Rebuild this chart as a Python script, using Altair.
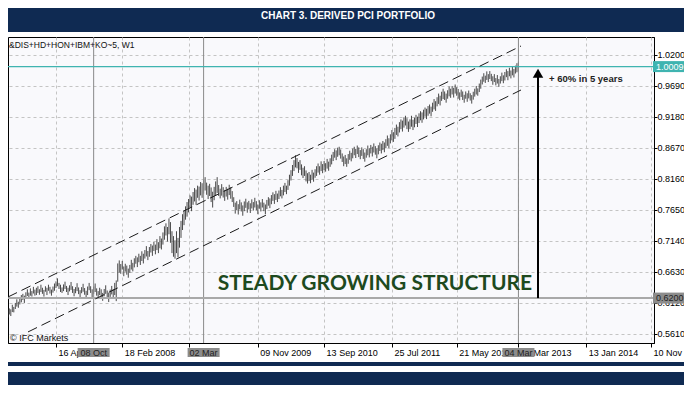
import json
import altair as alt
import pandas as pd

# ---------------- data ----------------
week_start = "2006-09-04"          # first weekly bar (W1 bars, one per week)

bar_mid = [
    0.594, 0.598, 0.596, 0.603, 0.601, 0.607, 0.612, 0.609, 0.615, 0.619,
    0.622, 0.618, 0.625, 0.629, 0.624, 0.630, 0.627, 0.633, 0.629, 0.631,
    0.634, 0.630, 0.636, 0.632, 0.628, 0.635, 0.631, 0.637, 0.633, 0.629,
    0.634, 0.638, 0.642, 0.646, 0.640, 0.636, 0.633, 0.637, 0.641, 0.635,
    0.631, 0.636, 0.640, 0.634, 0.629, 0.633, 0.638, 0.632, 0.627, 0.633,
    0.637, 0.631, 0.626, 0.632, 0.639, 0.634, 0.628, 0.633, 0.637, 0.630,
    0.625, 0.631, 0.627, 0.622, 0.629, 0.634, 0.626, 0.621, 0.628, 0.633,
    0.627, 0.635, 0.632, 0.662, 0.672, 0.668, 0.674, 0.664, 0.670, 0.666,
    0.661, 0.668, 0.675, 0.671, 0.678, 0.683, 0.679, 0.686, 0.682, 0.689,
    0.685, 0.692, 0.697, 0.690, 0.696, 0.702, 0.698, 0.705, 0.700, 0.708,
    0.703, 0.712, 0.709, 0.718, 0.727, 0.733, 0.725, 0.738, 0.728, 0.712,
    0.705, 0.700, 0.712, 0.703, 0.720, 0.733, 0.745, 0.752, 0.760, 0.766,
    0.772, 0.779, 0.775, 0.784, 0.790, 0.786, 0.795, 0.792, 0.800, 0.797,
    0.803, 0.808, 0.800, 0.794, 0.798, 0.790, 0.782, 0.792, 0.800, 0.806,
    0.797, 0.792, 0.798, 0.794, 0.789, 0.795, 0.791, 0.798, 0.793, 0.787,
    0.778, 0.768, 0.772, 0.766, 0.774, 0.770, 0.764, 0.771, 0.776, 0.769,
    0.773, 0.768, 0.775, 0.771, 0.777, 0.772, 0.766, 0.774, 0.770, 0.776,
    0.770, 0.766, 0.774, 0.779, 0.776, 0.782, 0.787, 0.783, 0.789, 0.785,
    0.790, 0.795, 0.791, 0.797, 0.802, 0.798, 0.806, 0.814, 0.822, 0.830,
    0.838, 0.845, 0.842, 0.835, 0.839, 0.831, 0.826, 0.829, 0.821, 0.817,
    0.820, 0.816, 0.823, 0.819, 0.825, 0.829, 0.834, 0.830, 0.837, 0.833,
    0.838, 0.835, 0.841, 0.837, 0.843, 0.848, 0.853, 0.858, 0.855, 0.860,
    0.862, 0.857, 0.851, 0.845, 0.848, 0.843, 0.849, 0.855, 0.852, 0.858,
    0.862, 0.858, 0.864, 0.860, 0.856, 0.861, 0.857, 0.852, 0.858, 0.863,
    0.859, 0.865, 0.861, 0.867, 0.863, 0.858, 0.864, 0.869, 0.866, 0.871,
    0.868, 0.874, 0.879, 0.875, 0.882, 0.888, 0.885, 0.891, 0.897, 0.894,
    0.901, 0.906, 0.903, 0.909, 0.912, 0.907, 0.902, 0.906, 0.911, 0.905,
    0.909, 0.914, 0.910, 0.916, 0.920, 0.917, 0.922, 0.926, 0.923, 0.928,
    0.931, 0.927, 0.934, 0.939, 0.936, 0.943, 0.948, 0.945, 0.952, 0.956,
    0.953, 0.949, 0.955, 0.960, 0.957, 0.962, 0.958, 0.964, 0.960, 0.956,
    0.952, 0.957, 0.953, 0.948, 0.954, 0.950, 0.955, 0.951, 0.947, 0.953,
    0.958, 0.962, 0.959, 0.966, 0.972, 0.978, 0.983, 0.980, 0.986, 0.982,
    0.987, 0.983, 0.978, 0.982, 0.976, 0.980, 0.974, 0.979, 0.984, 0.980,
    0.985, 0.990, 0.986, 0.992, 0.988, 0.994, 0.990, 0.996, 0.999, 1.001,
]

bar_range = [
    0.012, 0.010, 0.011, 0.012, 0.009, 0.010, 0.012, 0.010, 0.011, 0.012,
    0.010, 0.012, 0.009, 0.011, 0.010, 0.012, 0.009, 0.011, 0.010, 0.012,
    0.011, 0.009, 0.012, 0.010, 0.011, 0.009, 0.012, 0.010, 0.011, 0.010,
    0.010, 0.012, 0.011, 0.013, 0.010, 0.012, 0.009, 0.011, 0.012, 0.010,
    0.012, 0.010, 0.013, 0.011, 0.012, 0.010, 0.013, 0.011, 0.012, 0.010,
    0.013, 0.011, 0.012, 0.014, 0.012, 0.011, 0.013, 0.012, 0.014, 0.012,
    0.013, 0.012, 0.015, 0.013, 0.012, 0.014, 0.013, 0.015, 0.012, 0.014,
    0.016, 0.020, 0.034, 0.030, 0.020, 0.016, 0.014, 0.016, 0.013, 0.015,
    0.015, 0.013, 0.016, 0.014, 0.015, 0.013, 0.016, 0.014, 0.015, 0.016,
    0.016, 0.014, 0.017, 0.015, 0.016, 0.014, 0.017, 0.015, 0.016, 0.018,
    0.018, 0.020, 0.018, 0.020, 0.022, 0.020, 0.024, 0.026, 0.034, 0.036,
    0.034, 0.030, 0.036, 0.032, 0.034, 0.028, 0.026, 0.024, 0.022, 0.024,
    0.022, 0.020, 0.024, 0.021, 0.022, 0.025, 0.020, 0.023, 0.022, 0.024,
    0.022, 0.022, 0.020, 0.022, 0.020, 0.024, 0.026, 0.022, 0.024, 0.026,
    0.018, 0.016, 0.019, 0.017, 0.018, 0.016, 0.018, 0.017, 0.019, 0.018,
    0.016, 0.018, 0.015, 0.017, 0.016, 0.015, 0.017, 0.016, 0.015, 0.017,
    0.014, 0.016, 0.015, 0.014, 0.016, 0.015, 0.016, 0.014, 0.015, 0.014,
    0.014, 0.016, 0.015, 0.014, 0.016, 0.015, 0.014, 0.016, 0.015, 0.014,
    0.014, 0.015, 0.014, 0.016, 0.015, 0.014, 0.016, 0.018, 0.017, 0.018,
    0.018, 0.020, 0.017, 0.018, 0.016, 0.018, 0.017, 0.016, 0.018, 0.017,
    0.015, 0.014, 0.016, 0.015, 0.014, 0.016, 0.015, 0.014, 0.016, 0.015,
    0.015, 0.014, 0.016, 0.015, 0.014, 0.016, 0.015, 0.014, 0.016, 0.015,
    0.014, 0.015, 0.014, 0.016, 0.015, 0.014, 0.016, 0.015, 0.014, 0.016,
    0.014, 0.015, 0.014, 0.016, 0.015, 0.014, 0.016, 0.015, 0.014, 0.016,
    0.015, 0.014, 0.016, 0.015, 0.014, 0.016, 0.015, 0.014, 0.016, 0.015,
    0.016, 0.015, 0.017, 0.016, 0.015, 0.017, 0.016, 0.018, 0.017, 0.016,
    0.017, 0.016, 0.018, 0.017, 0.016, 0.018, 0.017, 0.016, 0.018, 0.017,
    0.016, 0.015, 0.017, 0.016, 0.015, 0.017, 0.016, 0.015, 0.017, 0.016,
    0.015, 0.016, 0.015, 0.017, 0.016, 0.015, 0.017, 0.016, 0.015, 0.017,
    0.014, 0.015, 0.014, 0.016, 0.015, 0.014, 0.016, 0.015, 0.014, 0.016,
    0.013, 0.012, 0.014, 0.013, 0.012, 0.014, 0.013, 0.012, 0.014, 0.013,
    0.013, 0.014, 0.012, 0.014, 0.015, 0.013, 0.014, 0.012, 0.014, 0.013,
    0.013, 0.012, 0.014, 0.013, 0.012, 0.014, 0.013, 0.012, 0.014, 0.013,
    0.014, 0.013, 0.015, 0.014, 0.013, 0.015, 0.014, 0.013, 0.015, 0.016,
]

y_ticks = [0.5610, 0.6120, 0.6630, 0.7140, 0.7650, 0.8160, 0.8670, 0.9180, 0.9690, 1.0200]
x_tick_dates = ["2007-04-16", "2008-02-18", "2008-12-22", "2009-11-09", "2010-09-13",
                "2011-07-25", "2012-05-21", "2013-03-04", "2014-01-13", "2014-11-10"]
x_tick_labels = ["16 Apr 2007", "18 Feb 2008", "", "09 Nov 2009", "13 Sep 2010",
                 "25 Jul 2011", "21 May 2012", "04 Mar 2013", "13 Jan 2014", "10 Nov"]

marker_dates = ["2007-10-08", "2009-03-02", "2013-03-04"]
marker_labels = ["08 Oct", "02 Mar", "04 Mar"]

level_prices = [1.0009, 0.6200]
level_labels = ["1.0009", "0.6200"]

channel_names = ["upper", "upper", "lower", "lower"]
channel_dates = ["2006-09-05", "2013-03-16", "2006-12-07", "2013-03-16"]
channel_prices = [0.6218, 1.0348, 0.5643, 0.9624]

arrow_date = "2013-06-03"
arrow_base = 0.6200
arrow_tip = 0.9900

note_text = "+ 60% in 5 years"
note_date = "2013-07-24"
note_price = 0.9805

headline = "STEADY GROWING STRUCTURE"
headline_date = "2011-05-07"
headline_price = 0.6432

title_text = "CHART 3. DERIVED PCI PORTFOLIO"
symbol_text = "&DIS+HD+HON+IBM+KO~5, W1"
credit_text = "\u00a9 IFC Markets"

# ---------------- tables ----------------
dates = pd.date_range(week_start, periods=len(bar_mid), freq="7D").strftime("%Y-%m-%d")
bars = pd.DataFrame({
    "date": dates,
    "lo": [m - r / 2 for m, r in zip(bar_mid, bar_range)],
    "hi": [m + r / 2 for m, r in zip(bar_mid, bar_range)],
})
markers = pd.DataFrame({"date": marker_dates, "label": marker_labels})
channels = pd.DataFrame({"name": channel_names, "date": channel_dates, "price": channel_prices})
arrow = pd.DataFrame({"date": [arrow_date], "p0": [arrow_base], "p1": [arrow_tip]})
note = pd.DataFrame({"date": [note_date], "price": [note_price], "text": [note_text]})
head = pd.DataFrame({"date": [headline_date], "price": [headline_price], "text": [headline]})
one = pd.DataFrame({"k": [0]})

NAVY = "#0f2a52"
FONT = "Liberation Sans"
W, H = 646, 306

label_expr = (f"{json.dumps(x_tick_labels)}"
              f"[indexof({json.dumps(x_tick_dates)}, utcFormat(datum.value, '%Y-%m-%d'))]")
tick_values = [alt.DateTime(year=int(d[:4]), month=int(d[5:7]), date=int(d[8:]), utc=True)
               for d in x_tick_dates]

x_scale = alt.Scale(type="utc", domain=[alt.DateTime(year=2006, month=9, date=5, utc=True),
                                        alt.DateTime(year=2014, month=11, date=24, utc=True)])
y_scale = alt.Scale(domain=[0.5461, 1.0496], zero=False, nice=False)

x_axis = alt.Axis(values=tick_values, labelExpr=label_expr, title=None, grid=True,
                  labelAlign="left", labelBaseline="top", labelOffset=2, labelPadding=1,
                  tickSize=4, labelOverlap=False, labelBound=False, labelFlush=False)
y_axis = alt.Axis(values=y_ticks, format=".4f", orient="right", title=None, grid=True,
                  labelAlign="left", labelBaseline="middle", labelPadding=0, tickSize=3,
                  labelOverlap=False, labelBound=False, labelFlush=False)


def X(field="date"):
    return alt.X(f"{field}:T", scale=x_scale, axis=x_axis)


def Y(field):
    return alt.Y(f"{field}:Q", scale=y_scale, axis=y_axis)


layers = []

layers.append(alt.Chart(bars).mark_rule(color="#4a4a4a", strokeWidth=1).encode(
    x=X(), y=Y("lo"), y2="hi"))

layers.append(alt.Chart(markers).mark_rule(color="#8a8a8a", strokeWidth=1).encode(x=X()))

# horizontal levels with their price-scale boxes
level_styles = [("#3fb4b0", 1.2, "#3fb4b0", "#ffffff"), ("#a9a9a9", 2.0, "#8c8c8c", "#222222")]
for price, label, (line_c, line_w, box_c, txt_c) in zip(level_prices, level_labels, level_styles):
    lv = pd.DataFrame({"price": [price], "label": [label]})
    layers.append(alt.Chart(lv).mark_rule(color=line_c, strokeWidth=line_w).encode(y=Y("price")))

layers.append(alt.Chart(channels).mark_line(color="#1a1a1a", strokeWidth=1, strokeDash=[10, 5]).encode(
    x=X(), y=Y("price"), detail="name:N"))

layers.append(alt.Chart(arrow).mark_rule(color="#000", strokeWidth=2).encode(
    x=X(), y=Y("p0"), y2="p1"))
layers.append(alt.Chart(arrow).mark_point(shape="triangle-up", filled=True, size=110,
                                          color="#000", opacity=1).encode(x=X(), y=Y("p1")))

layers.append(alt.Chart(note).mark_text(align="left", baseline="middle", font=FONT, fontSize=9.5,
                                        fontWeight="bold", color="#222").encode(
    x=X(), y=Y("price"), text="text:N"))

layers.append(alt.Chart(head).mark_text(align="center", baseline="middle", font="Lato",
                                        fontSize=21, fontWeight="bold", color="#1e4a1e").encode(
    x=X(), y=Y("price"), text="text:N"))

# highlighted dates on the time scale
layers.append(alt.Chart(markers).mark_rect(color="#8c8c8c", xOffset=-16, x2Offset=16).encode(
    x=X(), x2="date:T", y=alt.value(311), y2=alt.value(320)))
layers.append(alt.Chart(markers).mark_text(align="center", baseline="middle", font=FONT,
                                           fontSize=9, color="#222").encode(
    x=X(), y=alt.value(315.5), text="label:N"))

for price, label, (line_c, line_w, box_c, txt_c) in zip(level_prices, level_labels, level_styles):
    lv = pd.DataFrame({"price": [price], "label": [label]})
    layers.append(alt.Chart(lv).mark_rect(color=box_c, yOffset=-5.5, y2Offset=5.5).encode(
        x=alt.value(W - 1), x2=alt.value(W + 30), y=Y("price"), y2="price"))
    layers.append(alt.Chart(lv).mark_text(align="left", baseline="middle", font=FONT, fontSize=9,
                                          color=txt_c).encode(
        x=alt.value(W + 2), y=Y("price"), text="label:N"))

# frame decorations
layers.append(alt.Chart(one).mark_rect(color=NAVY).encode(
    x=alt.value(-10), x2=alt.value(700), y=alt.value(-45), y2=alt.value(-5)))
layers.append(alt.Chart(one).mark_text(align="center", baseline="middle", font=FONT, fontSize=10,
                                       fontWeight="bold", color="#ffffff").transform_calculate(
    t=json.dumps(title_text)).encode(x=alt.value(340), y=alt.value(-21), text="t:N"))
layers.append(alt.Chart(one).mark_rect(color=NAVY).encode(
    x=alt.value(-10), x2=alt.value(700), y=alt.value(325), y2=alt.value(360)))
layers.append(alt.Chart(one).mark_rect(color="#ffffff").encode(
    x=alt.value(-10), x2=alt.value(700), y=alt.value(329), y2=alt.value(335)))
layers.append(alt.Chart(one).mark_text(align="left", baseline="middle", font=FONT, fontSize=8.5,
                                       color="#111").transform_calculate(
    t=json.dumps(symbol_text)).encode(x=alt.value(1), y=alt.value(8), text="t:N"))
layers.append(alt.Chart(one).mark_text(align="left", baseline="middle", font=FONT, fontSize=9,
                                       color="#111").transform_calculate(
    t=json.dumps(credit_text)).encode(x=alt.value(2), y=alt.value(301), text="t:N"))

chart = alt.layer(*layers).properties(
    width=W, height=H,
    padding={"left": 0, "top": 29, "right": 684 - 8 - W, "bottom": 42},
    autosize=alt.AutoSizeParams(type="none"),
    background="#ffffff",
).configure_view(
    fill="#f9f9fc", stroke="#000000", strokeWidth=1,
).configure_axis(
    labelFont=FONT, labelFontSize=9, labelColor="#000000",
    tickColor="#000000", domainColor="#000000",
    gridColor="#c4c4c4", gridDash=[3, 3], gridWidth=1,
)

chart.save("out.html", embed_options={"renderer": "svg", "actions": False})
